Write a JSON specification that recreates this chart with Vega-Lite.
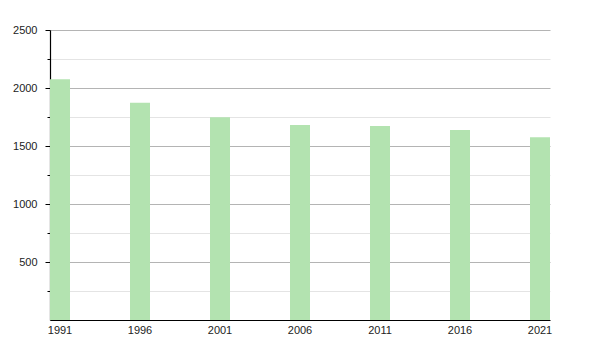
{
  "$schema": "https://vega.github.io/schema/vega-lite/v6.json",
  "width": 500,
  "height": 290,
  "autosize": "none",
  "padding": {"left": 50, "top": 30, "right": 50, "bottom": 30},
  "background": "white",
  "data": {
    "values": [
      {"year": "1991", "population": 2075},
      {"year": "1996", "population": 1873},
      {"year": "2001", "population": 1747},
      {"year": "2006", "population": 1681},
      {"year": "2011", "population": 1672},
      {"year": "2016", "population": 1638},
      {"year": "2021", "population": 1575}
    ]
  },
  "mark": {"type": "bar", "color": "#b3e3b0"},
  "encoding": {
    "x": {
      "field": "year",
      "type": "ordinal",
      "scale": {"paddingInner": 0.75, "paddingOuter": 0},
      "axis": {
        "title": null,
        "labelAngle": 0,
        "ticks": false,
        "labelPadding": 4,
        "labelFont": "Liberation Sans",
        "labelFontSize": 11,
        "labelColor": "#222",
        "domainColor": "#000",
        "domainWidth": 1.2
      }
    },
    "y": {
      "field": "population",
      "type": "quantitative",
      "scale": {"domain": [0, 2500], "nice": false},
      "axis": {
        "title": null,
        "values": [250, 500, 750, 1000, 1250, 1500, 1750, 2000, 2250, 2500],
        "labelExpr": "datum.value % 500 === 0 ? datum.label : ''",
        "format": "d",
        "grid": true,
        "gridColor": {"condition": {"test": "datum.value % 500 === 0", "value": "#b4b4b4"}, "value": "#e4e4e4"},
        "gridWidth": 1,
        "tickSize": {"condition": {"test": "datum.value % 500 === 0", "value": 5}, "value": 3},
        "tickColor": "#000",
        "labelPadding": 8,
        "labelFont": "Liberation Sans",
        "labelFontSize": 11,
        "labelColor": "#222",
        "domainColor": "#000",
        "domainWidth": 1.2
      }
    }
  },
  "config": {"view": {"stroke": null}}
}
